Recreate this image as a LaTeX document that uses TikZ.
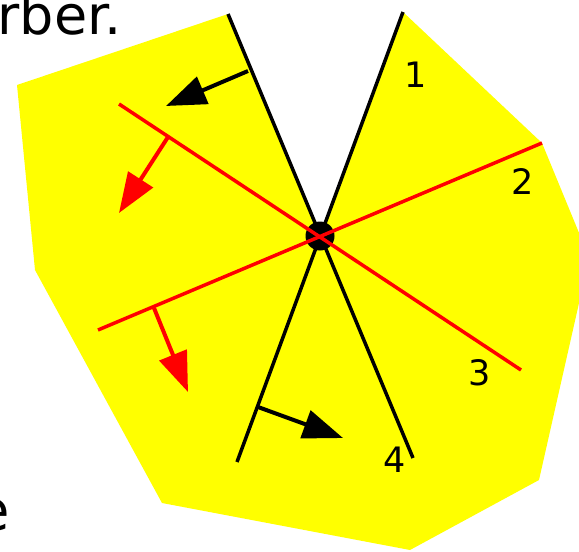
\documentclass[tikz,border=0pt]{standalone}
\usepackage{fontspec}
\setmainfont{DejaVu Sans}
\usetikzlibrary{arrows.meta}
\definecolor{keepyellow}{RGB}{255,255,0}
\definecolor{cutred}{RGB}{255,0,0}

\begin{document}
\begin{tikzpicture}[x=1pt, y=-1pt, every node/.style={inner sep=0pt},
  cutline/.style={line width=3.5pt},
  normal/.style={line width=4pt, -{Triangle[length=40pt,width=29pt]}},
  num/.style={font=\fontsize{35}{40}\selectfont}]
\clip (0,0) rectangle (579,552);
% region left over after the cuts
\fill[keepyellow] (228,14) -- (17,85) -- (35,270) -- (162,503) -- (410,550) -- (539,480) -- (584,281) -- (584,245) -- (542,143) -- (403,12) -- (320,236) -- cycle;
% line ends
\coordinate (a1) at (403,12);  \coordinate (b1) at (237,462);
\coordinate (a2) at (542,143); \coordinate (b2) at (98,330);
\coordinate (a3) at (119,104); \coordinate (b3) at (521,370);
\coordinate (a4) at (228,14);  \coordinate (b4) at (413,458);
\draw[cutline] (a1) -- (b1);
\draw[cutline] (a4) -- (b4);
\node[circle, fill=black, minimum size=29pt] (apex) at (320,236) {};
\draw[cutline, cutred] (a2) -- (b2);
\draw[cutline, cutred] (a3) -- (b3);
% normals
\coordinate (f4) at (248,71);  \coordinate (t4) at (166,106);
\coordinate (f3) at (168,137); \coordinate (t3) at (119,213);
\coordinate (f2) at (154,308); \coordinate (t2) at (188,392);
\coordinate (f1) at (258,407); \coordinate (t1) at (343,438);
\draw[normal] (f4) -- (t4);
\draw[normal, cutred] (f3) -- (t3);
\draw[normal, cutred] (f2) -- (t2);
\draw[normal] (f1) -- (t1);
\node[num] (n1) at (416,75) {1};
\node[num] (n2) at (523,182) {2};
\node[num] (n3) at (480,373) {3};
\node[num] (n4) at (395,460) {4};
\node[anchor=base east, font=\fontsize{54}{60}\selectfont] (ttop) at (122,34) {rber.};
\node[anchor=base east, font=\fontsize{56}{60}\selectfont] (tbot) at (10,530) {e};
\end{tikzpicture}
\end{document}
